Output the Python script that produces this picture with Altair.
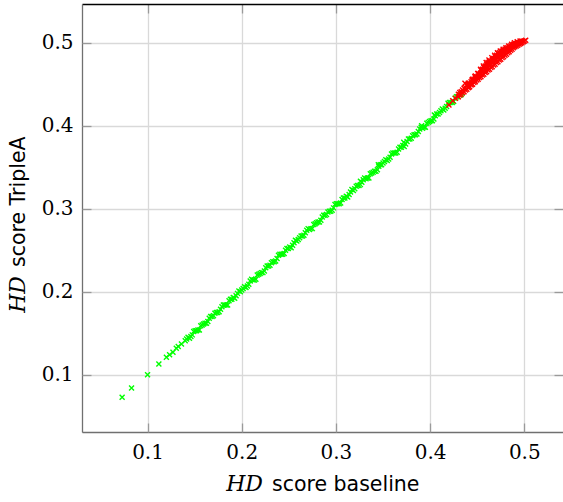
import altair as alt
import pandas as pd

# ---- data ----
green_baseline = [0.073, 0.083, 0.100, 0.112, 0.120, 0.1234, 0.127, 0.1305, 0.1326, 0.136,
    0.140, 0.143, 0.146, 0.149, 0.152, 0.155, 0.158, 0.161, 0.164, 0.167,
    0.170, 0.173, 0.176, 0.179, 0.182, 0.185, 0.188, 0.191, 0.194, 0.197,
    0.200, 0.203, 0.206, 0.209, 0.212, 0.215, 0.218, 0.221, 0.224, 0.227,
    0.230, 0.233, 0.236, 0.239, 0.242, 0.245, 0.248, 0.251, 0.254, 0.257,
    0.260, 0.263, 0.266, 0.269, 0.272, 0.275, 0.278, 0.281, 0.284, 0.287,
    0.290, 0.293, 0.296, 0.299, 0.302, 0.305, 0.308, 0.311, 0.314, 0.317,
    0.320, 0.323, 0.326, 0.329, 0.332, 0.335, 0.338, 0.341, 0.344, 0.347,
    0.350, 0.353, 0.356, 0.359, 0.362, 0.365, 0.368, 0.371, 0.374, 0.377,
    0.380, 0.383, 0.386, 0.389, 0.392, 0.395, 0.398, 0.401, 0.404, 0.407,
    0.410, 0.413, 0.416, 0.419, 0.422, 0.425, 0.428, 0.431, 0.434,
    0.326, 0.345, 0.372, 0.391, 0.4045]
green_triplea = [0.073, 0.084, 0.100, 0.113, 0.121, 0.1241, 0.127, 0.132, 0.134, 0.137,
    0.141, 0.145, 0.146, 0.152, 0.153, 0.154, 0.160, 0.162, 0.164, 0.170,
    0.171, 0.175, 0.176, 0.182, 0.184, 0.184, 0.191, 0.193, 0.195, 0.201,
    0.202, 0.206, 0.207, 0.213, 0.214, 0.215, 0.221, 0.223, 0.225, 0.231,
    0.232, 0.236, 0.237, 0.244, 0.245, 0.246, 0.252, 0.254, 0.256, 0.262,
    0.263, 0.267, 0.268, 0.274, 0.275, 0.276, 0.282, 0.284, 0.286, 0.292,
    0.293, 0.297, 0.298, 0.305, 0.306, 0.307, 0.313, 0.315, 0.317, 0.323,
    0.324, 0.328, 0.329, 0.335, 0.336, 0.337, 0.343, 0.345, 0.347, 0.353,
    0.355, 0.359, 0.360, 0.366, 0.367, 0.368, 0.374, 0.376, 0.378, 0.384,
    0.385, 0.389, 0.390, 0.396, 0.397, 0.398, 0.404, 0.406, 0.408, 0.414,
    0.416, 0.420, 0.421, 0.427, 0.428, 0.429, 0.435, 0.437, 0.439,
    0.333, 0.353, 0.380, 0.400, 0.413]

green_baseline_mid = [0.1415, 0.1445, 0.1475, 0.1505, 0.1535, 0.1565, 0.1595, 0.1625, 0.1655, 0.1685,
    0.1715, 0.1745, 0.1775, 0.1805, 0.1835, 0.1865, 0.1895, 0.1925, 0.1955, 0.1985,
    0.2015, 0.2045, 0.2075, 0.2105, 0.2135, 0.2165, 0.2195, 0.2225, 0.2255, 0.2285,
    0.2315, 0.2345, 0.2375, 0.2405, 0.2435, 0.2465, 0.2495, 0.2525, 0.2555, 0.2585,
    0.2615, 0.2645, 0.2675, 0.2705, 0.2735, 0.2765, 0.2795, 0.2825, 0.2855, 0.2885,
    0.2915, 0.2945, 0.2975, 0.3005, 0.3035, 0.3065, 0.3095, 0.3125, 0.3155, 0.3185,
    0.3215, 0.3245, 0.3275, 0.3305, 0.3335, 0.3365, 0.3395, 0.3425, 0.3455, 0.3485,
    0.3515, 0.3545, 0.3575, 0.3605, 0.3635, 0.3665, 0.3695, 0.3725, 0.3755, 0.3785,
    0.3815, 0.3845, 0.3875, 0.3905, 0.3935, 0.3965, 0.3995, 0.4025, 0.4055, 0.4085,
    0.4115, 0.4145, 0.4175, 0.4205, 0.4235, 0.4265, 0.4295, 0.4325]
green_triplea_mid = [0.143, 0.144, 0.148, 0.153, 0.154, 0.159, 0.161, 0.162, 0.168, 0.170,
    0.174, 0.175, 0.179, 0.184, 0.184, 0.189, 0.191, 0.192, 0.198, 0.200,
    0.204, 0.205, 0.209, 0.215, 0.214, 0.220, 0.222, 0.223, 0.229, 0.231,
    0.235, 0.236, 0.240, 0.245, 0.245, 0.250, 0.252, 0.253, 0.259, 0.261,
    0.265, 0.267, 0.271, 0.276, 0.276, 0.281, 0.283, 0.284, 0.290, 0.292,
    0.296, 0.297, 0.301, 0.306, 0.306, 0.311, 0.313, 0.314, 0.320, 0.322,
    0.327, 0.328, 0.332, 0.337, 0.337, 0.342, 0.344, 0.345, 0.351, 0.353,
    0.357, 0.358, 0.362, 0.367, 0.367, 0.372, 0.374, 0.375, 0.381, 0.384,
    0.388, 0.389, 0.393, 0.398, 0.398, 0.403, 0.405, 0.406, 0.412, 0.414,
    0.418, 0.419, 0.423, 0.428, 0.428, 0.433, 0.435, 0.437]

red_baseline = [0.420, 0.424, 0.427, 0.430, 0.430, 0.4315, 0.4315, 0.433, 0.433, 0.4345,
    0.4345, 0.436, 0.436, 0.437, 0.4375, 0.4375, 0.439, 0.439, 0.4405, 0.4405,
    0.4405, 0.442, 0.442, 0.4435, 0.4435, 0.445, 0.445, 0.445, 0.4465, 0.4465,
    0.448, 0.448, 0.448, 0.4495, 0.4495, 0.451, 0.451, 0.451, 0.4525, 0.4525,
    0.454, 0.454, 0.454, 0.4555, 0.4555, 0.4555, 0.457, 0.457, 0.457, 0.4585,
    0.4585, 0.4585, 0.460, 0.460, 0.460, 0.4615, 0.4615, 0.4615, 0.463, 0.463,
    0.463, 0.4645, 0.4645, 0.4645, 0.466, 0.466, 0.466, 0.4675, 0.4675, 0.4675,
    0.469, 0.469, 0.469, 0.4705, 0.4705, 0.4705, 0.472, 0.472, 0.472, 0.4735,
    0.4735, 0.4735, 0.475, 0.475, 0.475, 0.4765, 0.4765, 0.4765, 0.478, 0.478,
    0.478, 0.4795, 0.4795, 0.4795, 0.481, 0.481, 0.481, 0.4825, 0.4825, 0.4825,
    0.484, 0.484, 0.484, 0.4855, 0.4855, 0.4855, 0.487, 0.487, 0.487, 0.4885,
    0.4885, 0.4885, 0.490, 0.490, 0.4915, 0.4915, 0.493, 0.493, 0.4945, 0.4945,
    0.496, 0.496, 0.4975, 0.4975, 0.499, 0.500]
red_triplea = [0.425, 0.430, 0.433, 0.435, 0.438, 0.437, 0.440, 0.438, 0.441, 0.440,
    0.443, 0.441, 0.445, 0.451, 0.443, 0.446, 0.444, 0.448, 0.446, 0.449,
    0.451, 0.447, 0.451, 0.449, 0.453, 0.450, 0.454, 0.456, 0.452, 0.456,
    0.453, 0.457, 0.460, 0.455, 0.459, 0.456, 0.460, 0.463, 0.458, 0.462,
    0.459, 0.463, 0.467, 0.461, 0.465, 0.468, 0.462, 0.466, 0.470, 0.464,
    0.468, 0.472, 0.465, 0.469, 0.474, 0.467, 0.471, 0.476, 0.468, 0.473,
    0.477, 0.470, 0.474, 0.478, 0.471, 0.476, 0.480, 0.473, 0.477, 0.481,
    0.474, 0.479, 0.483, 0.476, 0.480, 0.485, 0.477, 0.482, 0.487, 0.479,
    0.483, 0.488, 0.480, 0.485, 0.489, 0.482, 0.486, 0.490, 0.483, 0.487,
    0.491, 0.485, 0.489, 0.492, 0.486, 0.490, 0.493, 0.488, 0.491, 0.494,
    0.489, 0.492, 0.495, 0.491, 0.494, 0.496, 0.492, 0.495, 0.497, 0.494,
    0.496, 0.498, 0.495, 0.498, 0.496, 0.499, 0.497, 0.500, 0.498, 0.500,
    0.499, 0.501, 0.500, 0.502, 0.501, 0.502]

red_baseline_upper = [0.441, 0.4445, 0.4475, 0.4505, 0.4535, 0.4565, 0.4595, 0.4625, 0.4655, 0.4685,
    0.4715, 0.4745, 0.4775, 0.4805, 0.4835, 0.4865, 0.4895, 0.4925, 0.4955, 0.5015,
    0.441, 0.4445, 0.4475, 0.4505, 0.4535, 0.4565, 0.4595, 0.4625, 0.4655, 0.4685,
    0.4715, 0.4745, 0.4775, 0.4805, 0.4835, 0.4865, 0.4895, 0.4925, 0.4955]
red_triplea_upper = [0.450, 0.455, 0.459, 0.463, 0.468, 0.472, 0.476, 0.479, 0.482, 0.485,
    0.488, 0.490, 0.492, 0.494, 0.496, 0.498, 0.500, 0.501, 0.502, 0.503,
    0.446, 0.450, 0.454, 0.458, 0.462, 0.466, 0.470, 0.473, 0.476, 0.480,
    0.483, 0.486, 0.489, 0.491, 0.493, 0.495, 0.497, 0.499, 0.500]

tick_values = [0.1, 0.2, 0.3, 0.4, 0.5]
x_title_parts = ["HD", "score baseline"]
y_title_parts = ["HD", "score TripleA"]
series_colors = {"green": "#00ff00", "red": "#ff0000"}

# ---- layout ----
W, H = 481, 428
x_scale = alt.Scale(domain=[0.0304, 0.5411], nice=False, zero=False)
y_scale = alt.Scale(domain=[0.0310, 0.5466], nice=False, zero=False)

df = pd.concat([
    pd.DataFrame({"baseline": green_baseline, "triplea": green_triplea, "group": "green", "order": 0}),
    pd.DataFrame({"baseline": green_baseline_mid, "triplea": green_triplea_mid, "group": "green", "order": 0}),
    pd.DataFrame({"baseline": red_baseline, "triplea": red_triplea, "group": "red", "order": 1}),
    pd.DataFrame({"baseline": red_baseline_upper, "triplea": red_triplea_upper, "group": "red", "order": 1}),
], ignore_index=True)

xmark = "M-1,-1L1,1M-1,1L1,-1"

label_font = "DejaVu Serif"
tick_color = "#9a9a9a"
axis_color = "#707070"
grid_color = "#d9d9d9"

points = alt.Chart(df).mark_point(
    shape=xmark, size=25, strokeWidth=1.4, filled=False, opacity=1
).encode(
    x=alt.X("baseline:Q", scale=x_scale, axis=alt.Axis(
        values=tick_values, format=".1f", grid=True, gridColor=grid_color, gridWidth=1.3,
        ticks=False, tickSize=0, domain=True, domainColor=axis_color, domainWidth=1.3,
        labelFont=label_font, labelFontSize=20, labelColor="black", labelPadding=10,
        title=None)),
    y=alt.Y("triplea:Q", scale=y_scale, axis=alt.Axis(
        values=tick_values, format=".1f", grid=True, gridColor=grid_color, gridWidth=1.3,
        ticks=False, tickSize=0, domain=True, domainColor=axis_color, domainWidth=1.3,
        labelFont=label_font, labelFontSize=20, labelColor="black", labelPadding=9,
        title=None)),
    color=alt.Color("group:N", scale=alt.Scale(domain=list(series_colors.keys()),
                                               range=list(series_colors.values())), legend=None),
    order=alt.Order("order:Q"),
)

def tick_axis(orient, offset, domain=False, domain_color="black"):
    return alt.Axis(orient=orient, offset=offset, values=tick_values, labels=False, grid=False,
                    ticks=True, tickSize=9, tickColor=tick_color, tickWidth=1.3,
                    domain=domain, domainColor=domain_color, domainWidth=1.3, title=None)

ticks_a = alt.Chart(df).mark_point(opacity=0).encode(
    x=alt.X("baseline:Q", scale=x_scale, axis=tick_axis("top", -H)),
    y=alt.Y("triplea:Q", scale=y_scale, axis=tick_axis("right", -W)),
)
ticks_b = alt.Chart(df).mark_point(opacity=0).encode(
    x=alt.X("baseline:Q", scale=x_scale, axis=tick_axis("bottom", -H, domain=True, domain_color="black")),
    y=alt.Y("triplea:Q", scale=y_scale, axis=tick_axis("left", -W)),
)

title_df = pd.DataFrame({"xa": [x_title_parts[0]], "xb": [x_title_parts[1]],
                         "ya": [y_title_parts[0]], "yb": [y_title_parts[1]]})

xt_a = alt.Chart(title_df).mark_text(font="DejaVu Serif", fontStyle="italic", fontSize=22,
                                     align="right", baseline="alphabetic", color="black").encode(
    x=alt.value(181), y=alt.value(487), text="xa:N")
xt_b = alt.Chart(title_df).mark_text(font="DejaVu Sans", fontSize=20.5,
                                     align="left", baseline="alphabetic", color="black").encode(
    x=alt.value(190), y=alt.value(487), text="xb:N")
yt_a = alt.Chart(title_df).mark_text(font="DejaVu Serif", fontStyle="italic", fontSize=22, angle=270,
                                     align="right", baseline="alphabetic", color="black").encode(
    x=alt.value(-57), y=alt.value(272), text="ya:N")
yt_b = alt.Chart(title_df).mark_text(font="DejaVu Sans", fontSize=20.5, angle=270,
                                     align="left", baseline="alphabetic", color="black").encode(
    x=alt.value(-57), y=alt.value(263), text="yb:N")

chart = alt.layer(points, ticks_a, ticks_b, xt_a, xt_b, yt_a, yt_b).resolve_axis(
    x="independent", y="independent"
).properties(
    width=W, height=H,
    autosize=alt.AutoSizeParams(type="none"),
    padding={"left": 82, "top": 4, "right": 0, "bottom": 70},
).configure_view(stroke=None).configure(background="white")

chart.save("out.html", embed_options={"renderer": "svg", "actions": False})
